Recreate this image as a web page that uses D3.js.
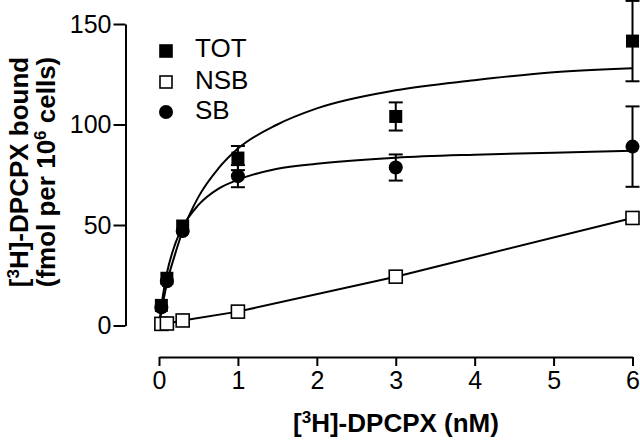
<!DOCTYPE html>
<html>
<head>
<meta charset="utf-8">
<script src="https://cdn.jsdelivr.net/npm/d3@7"></script>
<style>
  body { margin: 0; background: #fff; }
  svg { font-family: "Liberation Sans", Arial, Helvetica, sans-serif; }
</style>
</head>
<body>
<script>
// measured values (nM, fmol per 10^6 cells)
var conc   = [0.03, 0.1, 0.3, 1, 3, 6];
var tot    = [10, 23.5, 49.5, 83.3, 104, 141.5];
var totErr = [0, 0, 0, 6, 7, 20];
var nsb    = [0.8, 1, 2.5, 6.9, 24.3, 53.5];
var sb     = [9, 22, 47, 74.3, 78.6, 89];
var sbErr  = [0, 0, 0, 5.5, 6.5, 20];

// fitted curves
var fitX   = [0, 0.05, 0.1, 0.2, 0.3, 0.5, 0.75, 1, 1.5, 2, 3, 4, 5, 6];
var totFit = [0, 11, 21, 35, 47, 64, 78, 88, 100, 108, 117, 122, 126, 128];
var sbFit  = [0, 15, 26, 40, 49, 60, 68, 72.5, 78, 80.5, 83.5, 85, 86, 87];

var xTicks = [0, 1, 2, 3, 4, 5, 6];
var yTicks = [0, 50, 100, 150];

var W = 640, H = 440;
var svg = d3.select('body').append('svg').attr('width', W).attr('height', H);

var x = d3.scaleLinear().domain([0, 6]).range([159, 632.5]);
var y = d3.scaleLinear().domain([0, 150]).range([325.5, 24]);

// axes (offset, Prism style)
var yAxis = svg.append('g')
  .attr('transform', 'translate(125.5,0)')
  .call(d3.axisLeft(y).tickValues(yTicks).tickFormat(d3.format('d'))
    .tickSize(12).tickSizeOuter(0).tickPadding(2));
var xAxis = svg.append('g')
  .attr('transform', 'translate(0,357)')
  .call(d3.axisBottom(x).tickValues(xTicks).tickFormat(d3.format('d'))
    .tickSize(9).tickSizeOuter(0).tickPadding(5));

[yAxis, xAxis].forEach(function (g) {
  g.selectAll('path, line').attr('stroke', '#000').attr('stroke-width', 2);
  g.selectAll('text').attr('fill', '#000').style('font-size', '25px')
    .style('font-family', '"Liberation Sans", Arial, sans-serif');
});

// curves
var line = d3.line()
  .x(function (d) { return x(d[0]); })
  .y(function (d) { return y(d[1]); });

function addLine(xs, ys, curve) {
  var pts = xs.map(function (v, i) { return [v, ys[i]]; });
  svg.append('path')
    .attr('d', line.curve(curve)(pts))
    .attr('fill', 'none')
    .attr('stroke', '#000')
    .attr('stroke-width', 2);
}
addLine(fitX, totFit, d3.curveMonotoneX);
addLine(fitX, sbFit, d3.curveMonotoneX);
addLine(conc, nsb, d3.curveLinear);

// error bars
function errBars(vals, errs) {
  var g = svg.append('g').attr('stroke', '#000').attr('stroke-width', 2);
  conc.forEach(function (c, i) {
    if (!errs[i]) return;
    var cx = x(c), y1 = y(vals[i] - errs[i]), y2 = y(vals[i] + errs[i]);
    g.append('line').attr('x1', cx).attr('x2', cx).attr('y1', y1).attr('y2', y2);
    g.append('line').attr('x1', cx - 7).attr('x2', cx + 7).attr('y1', y1).attr('y2', y1);
    g.append('line').attr('x1', cx - 7).attr('x2', cx + 7).attr('y1', y2).attr('y2', y2);
  });
}
errBars(tot, totErr);
errBars(sb, sbErr);

// markers
var sq = 13;
svg.append('g').selectAll('rect')
  .data(nsb).enter().append('rect')
  .attr('x', function (d, i) { return x(conc[i]) - sq / 2; })
  .attr('y', function (d) { return y(d) - sq / 2; })
  .attr('width', sq).attr('height', sq)
  .attr('fill', '#fff').attr('stroke', '#000').attr('stroke-width', 1.6);

svg.append('g').selectAll('circle')
  .data(sb).enter().append('circle')
  .attr('cx', function (d, i) { return x(conc[i]); })
  .attr('cy', function (d) { return y(d); })
  .attr('r', 7).attr('fill', '#000');

svg.append('g').selectAll('rect')
  .data(tot).enter().append('rect')
  .attr('x', function (d, i) { return x(conc[i]) - sq / 2; })
  .attr('y', function (d) { return y(d) - sq / 2; })
  .attr('width', sq).attr('height', sq)
  .attr('fill', '#000');

// legend
var legend = [
  { name: 'TOT', kind: 'fill', cy: 51, base: 57 },
  { name: 'NSB', kind: 'open', cy: 82, base: 89 },
  { name: 'SB',  kind: 'circle', cy: 112, base: 119 }
];
legend.forEach(function (l) {
  if (l.kind === 'circle') {
    svg.append('circle').attr('cx', 166).attr('cy', l.cy).attr('r', 7).attr('fill', '#000');
  } else {
    svg.append('rect').attr('x', 166 - 6).attr('y', l.cy - 6).attr('width', 12).attr('height', 12)
      .attr('fill', l.kind === 'fill' ? '#000' : '#fff')
      .attr('stroke', '#000').attr('stroke-width', 1.6);
  }
  svg.append('text').attr('x', 195).attr('y', l.base)
    .style('font-size', '26px').text(l.name);
});

// axis titles
var xt = svg.append('text').attr('x', 396).attr('y', 432)
  .attr('text-anchor', 'middle').style('font-size', '26px').style('font-weight', 'bold');
xt.append('tspan').text('[');
xt.append('tspan').attr('dy', -9).style('font-size', '17px').text('3');
xt.append('tspan').attr('dy', 9).text('H]-DPCPX (nM)');

var yt = svg.append('text')
  .attr('transform', 'translate(0,172) rotate(-90)')
  .attr('text-anchor', 'middle').style('font-size', '26px').style('font-weight', 'bold');
yt.append('tspan').attr('x', 0).attr('y', 28).text('[');
yt.append('tspan').attr('dy', -9).style('font-size', '17px').text('3');
yt.append('tspan').attr('dy', 9).text('H]-DPCPX bound');
var yt2 = svg.append('text')
  .attr('transform', 'translate(0,172) rotate(-90)')
  .attr('text-anchor', 'middle').style('font-size', '26px').style('font-weight', 'bold');
yt2.append('tspan').attr('x', 0).attr('y', 55).text('(fmol per 10');
yt2.append('tspan').attr('dy', -9).style('font-size', '17px').text('6');
yt2.append('tspan').attr('dy', 9).text(' cells)');
</script>
</body>
</html>
